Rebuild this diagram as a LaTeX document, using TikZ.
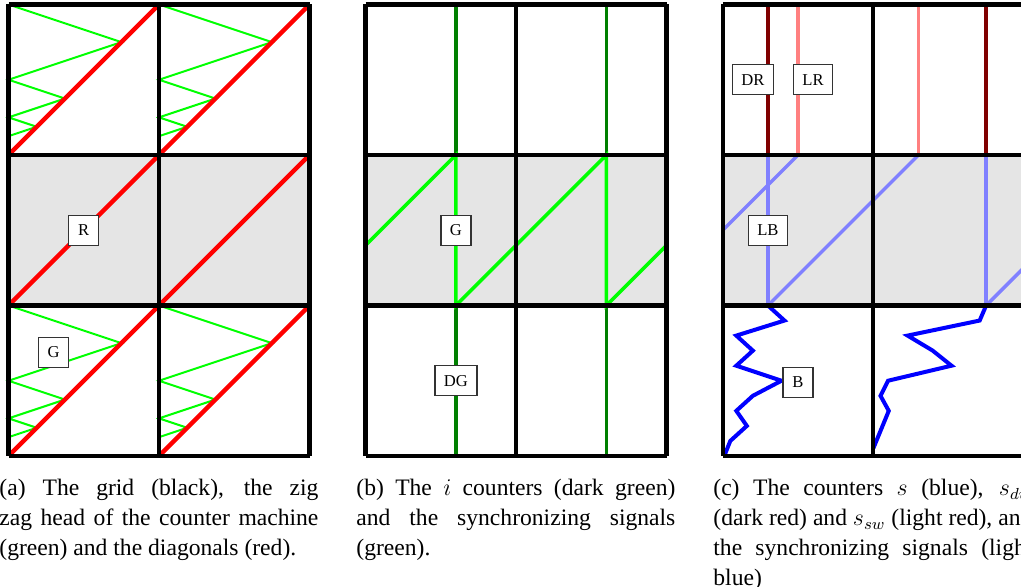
\documentclass[tikz,border=0pt]{standalone}
\usepackage{fontspec}
\setmainfont{Liberation Serif}
\tolerance=9999

\begin{document}
\begin{tikzpicture}[x=75.25pt, y=75.25pt,
  gridline/.style={step=1, color=black, line width=2.2pt},
  diag/.style={red, line width=2.2pt},
  zig/.style={green, line width=1pt},
  dkgreen/.style={green!50!black, line width=1.8pt},
  sync/.style={green, line width=1.8pt},
  dkred/.style={red!50!black, line width=1.7pt},
  ltred/.style={red!50, line width=1.7pt},
  ltblue/.style={blue!50, line width=1.7pt},
  counter/.style={blue, line width=2pt},
  lbl/.style={draw=black!80, fill=white, line width=0.6pt, minimum width=15pt, minimum height=15pt, inner xsep=4.5pt, font=\fontsize{8.3}{10}\selectfont},
  capt/.style={anchor=base west, inner sep=0pt, text width=159.5pt, align=justify, font=\fontsize{11.8}{14.85}\selectfont}]
\useasboundingbox (-0.0565,-0.8704) rectangle (6.7276,3.0299);
\clip (-0.0565,-0.8704) rectangle (6.7276,3.0299);

\fill[gray!20] (0,1) rectangle (2,2);
\draw[zig] (0,1) -- (.75,.75) -- (0,.5) -- (.375,.375) -- (0,.25) -- (.1875,.1875) -- (0,.125);
\draw[zig, shift={(1,0)}] (0,1) -- (.75,.75) -- (0,.5) -- (.375,.375) -- (0,.25) -- (.1875,.1875) -- (0,.125);
\draw[zig, shift={(0,2)}] (0,1) -- (.75,.75) -- (0,.5) -- (.375,.375) -- (0,.25) -- (.1875,.1875) -- (0,.125);
\draw[zig, shift={(1,2)}] (0,1) -- (.75,.75) -- (0,.5) -- (.375,.375) -- (0,.25) -- (.1875,.1875) -- (0,.125);
\draw[diag] (0,0) -- (1,1);
\draw[diag] (1,0) -- (2,1);
\draw[diag] (0,1) -- (1,2);
\draw[diag] (1,1) -- (2,2);
\draw[diag] (0,2) -- (1,3);
\draw[diag] (1,2) -- (2,3);
\draw[gridline] (0,0) grid (2,3);
\node[lbl] (labR) at (0.5,1.5) {R};
\node[lbl] (labGa) at (0.3,0.69) {G};

\fill[gray!20] (2.373,1) rectangle (4.373,2);
\draw[dkgreen] (2.973,0) -- (2.973,1);
\draw[dkgreen] (2.973,2) -- (2.973,3);
\draw[dkgreen] (3.973,0) -- (3.973,1);
\draw[dkgreen] (3.973,2) -- (3.973,3);
\draw[sync] (2.373,1.4) -- (2.973,2) -- (2.973,1) -- (3.973,2) -- (3.973,1) -- (4.373,1.4);
\draw[gridline, shift={(2.373,0)}] (0,0) grid (2,3);
\node[lbl] (labGb) at (2.973,1.5) {G};
\node[lbl] (labDG) at (2.973,0.5) {DG};

\fill[gray!20] (4.746,1) rectangle (6.746,2);
\draw[dkred] (5.046,2) -- (5.046,3);
\draw[dkred] (6.496,2) -- (6.496,3);
\draw[ltred] (5.246,2) -- (5.246,3);
\draw[ltred] (6.046,2) -- (6.046,3);
\draw[ltblue] (5.046,1) -- (5.046,2);
\draw[ltblue] (6.496,1) -- (6.496,2);
\draw[ltblue] (5.246,2) -- (4.746,1.5);
\draw[ltblue] (5.046,1) -- (6.046,2);
\draw[ltblue] (6.496,1) -- (6.746,1.25);
\draw[counter] (5.046,1) -- (5.156,0.9) -- (4.836,0.8) -- (4.946,0.7) -- (4.836,0.6) -- (5.136,0.5) -- (4.946,0.4) -- (4.836,0.3) -- (4.906,0.2) -- (4.796,0.1) -- (4.756,0);
\draw[counter] (6.496,1) -- (6.453,0.9) -- (5.974,0.8) -- (6.141,0.7) -- (6.266,0.6) -- (5.844,0.5) -- (5.794,0.4) -- (5.849,0.3) -- (5.746,0.05);
\draw[gridline, shift={(4.746,0)}] (0,0) grid (2,3);
\node[lbl] (labDR) at (4.946,2.5) {DR};
\node[lbl] (labLR) at (5.346,2.5) {LR};
\node[lbl] (labLB) at (5.046,1.5) {LB};
\node[lbl] (labB) at (5.246,0.49) {B};

\node[capt] (capa) at (-0.063,-0.2658) {(a) The grid (black), the zig\linebreak zag head of the counter machine\linebreak (green) and the diagonals (red).};
\node[capt] (capb) at (2.309,-0.2658) {(b) The $i$ counters (dark green)\linebreak and the synchronizing signals\linebreak (green).};
\node[capt] (capc) at (4.681,-0.2658) {(c) The counters $s$ (blue), $s_{dw}$\linebreak (dark red) and $s_{sw}$ (light red), and\linebreak the synchronizing signals (light\linebreak blue)};
\end{tikzpicture}
\end{document}
